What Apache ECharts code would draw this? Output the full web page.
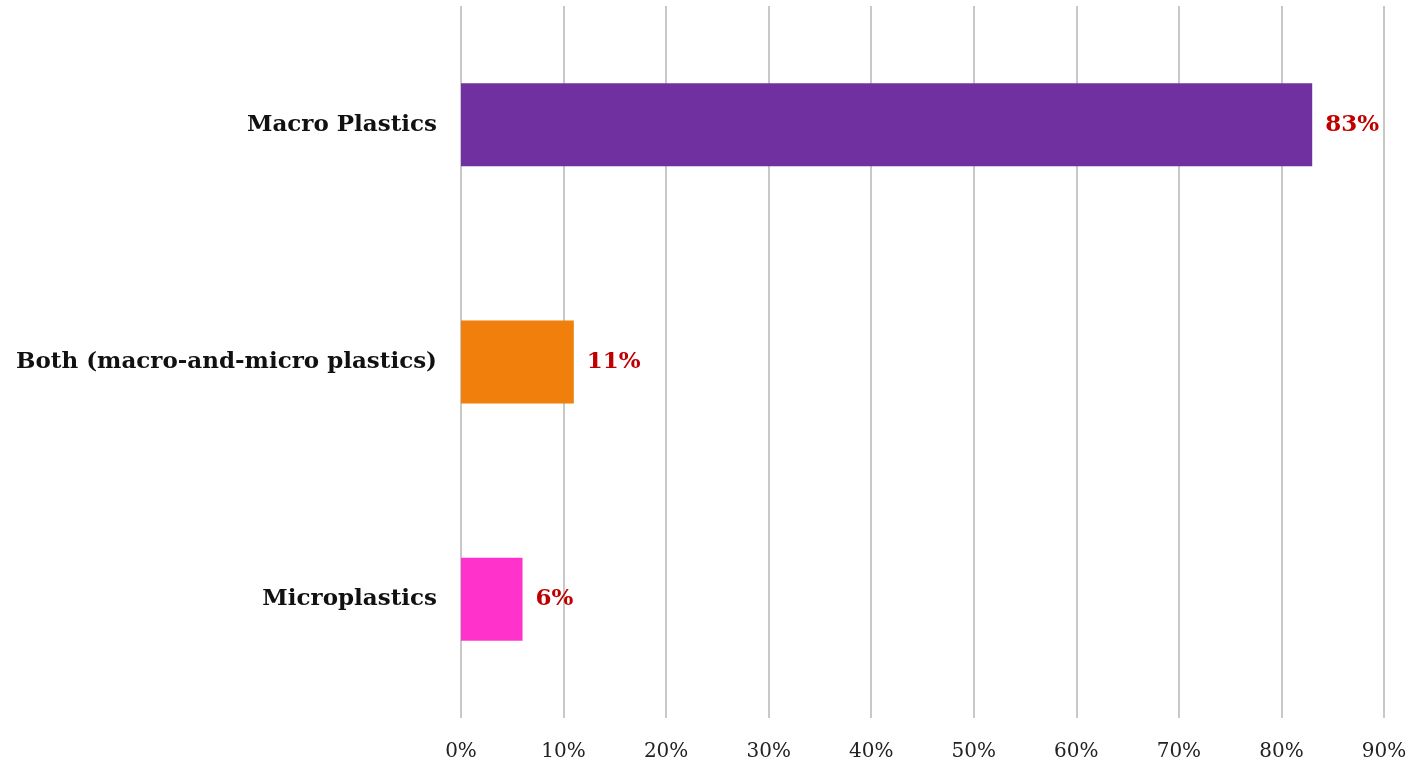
<!DOCTYPE html>
<html><head><meta charset="utf-8">
<script src="https://cdn.jsdelivr.net/npm/echarts@6/dist/echarts.min.js"></script>
<style>html,body{margin:0;padding:0;background:#fff}#c{width:1421px;height:765px}</style>
</head><body><div id="c"></div>
<script>
const categories = ["Macro Plastics", "Both (macro-and-micro plastics)", "Microplastics"];
const values = [83, 11, 6];
const barColors = ["#7030a0", "#f07f0b", "#ff33cc"];
const tickMax = 90;

const chart = echarts.init(document.getElementById('c'));
chart.setOption({
  animation: false,
  grid: {left: 461, right: 37, top: 6, bottom: 47},
  xAxis: {
    type: 'value', min: 0, max: tickMax, interval: 10,
    axisLine: {show: false}, axisTick: {show: false},
    splitLine: {lineStyle: {color: '#c8c8c8', width: 2}},
    axisLabel: {formatter: '{value}%', fontFamily: 'DejaVu Serif', fontSize: 20, color: '#222', margin: 24}
  },
  yAxis: {
    type: 'category', data: categories, inverse: true,
    axisLine: {show: false}, axisTick: {show: false},
    axisLabel: {fontFamily: 'DejaVu Serif', fontWeight: 'bold', fontSize: 23, color: '#111', margin: 24}
  },
  series: [{
    type: 'bar', barWidth: '35%',
    data: values.map((v, i) => ({value: v, itemStyle: {color: barColors[i]}})),
    label: {show: true, position: 'right', distance: 13, formatter: '{c}%', fontFamily: 'DejaVu Serif', fontWeight: 'bold', fontSize: 23, color: '#c00000'}
  }]
});
</script></body></html>
